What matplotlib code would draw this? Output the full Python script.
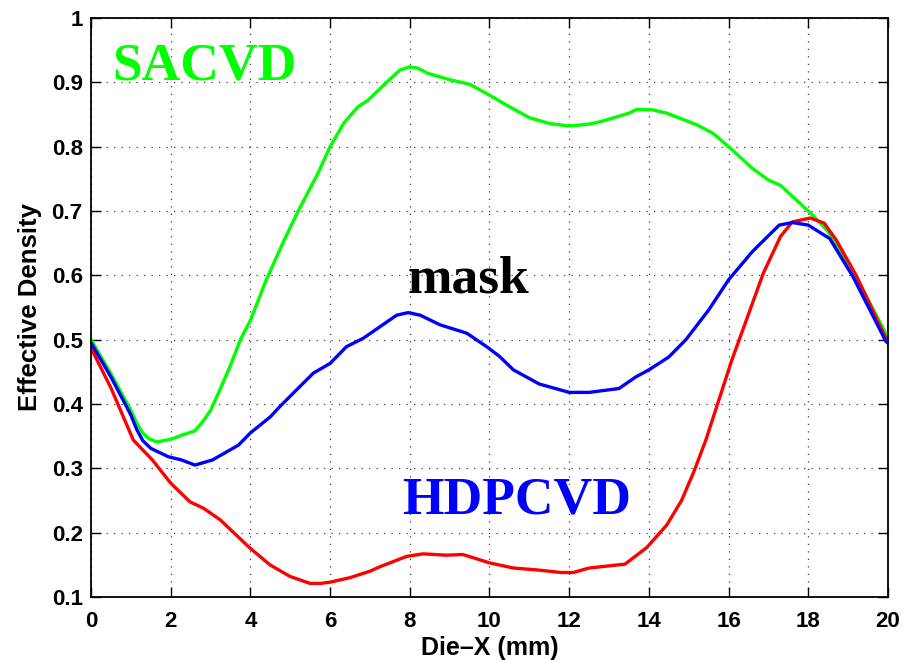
import matplotlib
matplotlib.use('Agg')
from matplotlib import pyplot as plt
from matplotlib.font_manager import FontProperties

# effective density profiles along the die
x_sacvd = [0, 0.5, 1.0, 1.15, 1.3, 1.45, 1.65, 2.0, 2.3, 2.6, 2.8, 3.0, 3.2,
           3.5, 3.75, 4.0, 4.4, 4.85, 5.2, 5.7, 6.0, 6.35, 6.7, 6.95, 7.35,
           7.75, 8.0, 8.2, 8.45, 9.0, 9.5, 10.0, 10.5, 11.0, 11.5, 12.0, 12.5,
           12.8, 13.5, 13.7, 14.1, 14.45, 15.2, 15.6, 16.0, 16.6, 17.0, 17.3,
           17.7, 18.1, 18.5, 19.2, 20.0]
y_sacvd = [0.5, 0.447, 0.39, 0.37, 0.355, 0.346, 0.341, 0.345, 0.352, 0.358,
           0.372, 0.39, 0.417, 0.46, 0.5, 0.53, 0.593, 0.655, 0.70, 0.759,
           0.80, 0.837, 0.862, 0.872, 0.896, 0.919, 0.924, 0.922, 0.914,
           0.904, 0.897, 0.88, 0.862, 0.845, 0.836, 0.832, 0.835, 0.839,
           0.852, 0.858, 0.857, 0.852, 0.834, 0.821, 0.80, 0.766, 0.748, 0.74,
           0.717, 0.694, 0.668, 0.598, 0.503]

x_hdp = [0, 0.5, 1.06, 1.54, 2.0, 2.48, 2.82, 3.24, 3.99, 4.49, 4.99, 5.5,
         5.75, 6.0, 6.5, 7.0, 7.25, 7.92, 8.33, 8.92, 9.33, 10.0, 10.6, 11.2,
         11.8, 12.1, 12.5, 13.4, 13.95, 14.45, 14.82, 15.13, 15.43, 15.75,
         16.08, 16.45, 16.87, 17.3, 17.6, 18.05, 18.4, 18.7, 19.2, 20.0]
y_hdp = [0.487, 0.425, 0.344, 0.313, 0.277, 0.248, 0.238, 0.22, 0.176, 0.15,
         0.132, 0.121, 0.121, 0.123, 0.13, 0.14, 0.147, 0.163, 0.167, 0.165,
         0.166, 0.153, 0.145, 0.142, 0.138, 0.138, 0.145, 0.151, 0.177,
         0.212, 0.25, 0.295, 0.344, 0.405, 0.468, 0.531, 0.603, 0.66, 0.683,
         0.689, 0.681, 0.655, 0.60, 0.495]

x_mask = [0, 0.5, 1.0, 1.15, 1.3, 1.5, 1.94, 2.27, 2.61, 3.05, 3.7, 4.0,
          4.5, 4.74, 5.24, 5.58, 6.0, 6.41, 6.83, 7.25, 7.67, 7.96, 8.26,
          8.76, 9.43, 9.93, 10.25, 10.6, 11.25, 12.0, 12.5, 13.25, 13.67,
          14.0, 14.5, 14.93, 15.5, 16.0, 16.6, 17.27, 17.6, 18.0, 18.54,
          19.12, 19.95, 20.0]
y_mask = [0.495, 0.442, 0.383, 0.36, 0.343, 0.331, 0.318, 0.313, 0.305,
          0.313, 0.336, 0.355, 0.38, 0.396, 0.427, 0.448, 0.463, 0.489,
          0.502, 0.52, 0.538, 0.542, 0.538, 0.523, 0.51, 0.489, 0.474, 0.453,
          0.431, 0.418, 0.418, 0.424, 0.442, 0.453, 0.473, 0.5, 0.546, 0.593,
          0.637, 0.678, 0.682, 0.678, 0.657, 0.598, 0.497, 0.495]

x_ticks = list(range(0, 21, 2))
y_ticks = [0.1, 0.2, 0.3, 0.4, 0.5, 0.6, 0.7, 0.8, 0.9, 1.0]
y_tick_labels = ['0.1', '0.2', '0.3', '0.4', '0.5', '0.6', '0.7', '0.8', '0.9', '1']

fig = plt.figure(figsize=(9.22, 6.6), dpi=100)
ax = fig.add_axes([0.0987, 0.0955, 0.8644, 0.8773])

ax.plot(x_sacvd, y_sacvd, color=(0, 1, 0), lw=2.4)
ax.plot(x_hdp, y_hdp, color=(1, 0, 0), lw=2.4)
ax.plot(x_mask, y_mask, color=(0, 0, 1), lw=2.4)

ax.set_xlim(0, 20)
ax.set_ylim(0.1, 1)
ax.set_xticks(x_ticks)
ax.set_yticks(y_ticks)
ax.set_yticklabels(y_tick_labels)

tick_font = FontProperties(family='Liberation Sans', weight='bold', size=16)
for lab in ax.get_xticklabels() + ax.get_yticklabels():
    lab.set_fontproperties(tick_font)

ax.tick_params(direction='in', length=7, width=1, top=True, right=True)
ax.tick_params(axis='x', pad=10)
ax.tick_params(axis='y', pad=6)
for s in ax.spines.values():
    s.set_linewidth(1.3)

# matlab style dotted grid
ax.grid(True, color='0.25', linestyle=(0, (1, 5)), linewidth=0.9)

ax.set_xlabel('Die\u2013X (mm)', fontfamily='Liberation Sans', fontweight='bold',
              fontsize=18, labelpad=3)
ax.set_ylabel('Effective Density', fontfamily='Liberation Sans', fontweight='bold',
              fontsize=18.5, labelpad=7)

# curve names
serif = dict(family='Liberation Serif', weight='bold', size=38.5)
ax.text(0.53, 0.905, 'SACVD', color=(0, 1, 0), **serif)
ax.text(7.95, 0.573, 'mask', color='black', **serif)
ax.text(7.8, 0.2305, 'HDPCVD', color=(0, 0, 1), **serif)

plt.savefig('out.png', dpi=100)
